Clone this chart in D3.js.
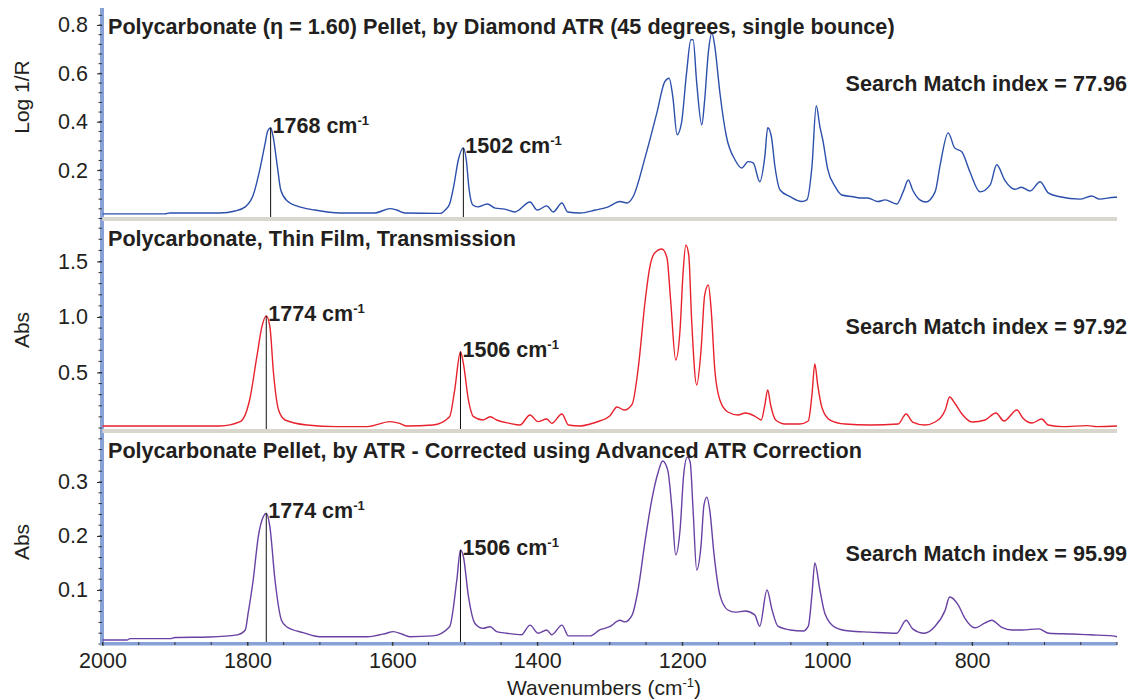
<!DOCTYPE html>
<html>
<head>
<meta charset="utf-8">
<script src="https://cdn.jsdelivr.net/npm/d3@7"></script>
<style>
    body { margin: 0; background: #fff; }
    #chart-area { width: 1130px; height: 700px; }
    text { font-family: "Liberation Sans", Arial, sans-serif; fill: #231f20; }
</style>
</head>
<body>
<div id="chart-area"></div>
<script>

/* * * * * * * * * * * * * *
*    Polycarbonate spectra  *
* * * * * * * * * * * * * */

// x axis
const wnDomain = [2000, 600];
const xTickValues = [2000, 1800, 1600, 1400, 1200, 1000, 800];

// Panel 1: diamond ATR pellet (Log 1/R)
const atrWn = [2000, 1914, 1907, 1838, 1817, 1803, 1792, 1783, 1776, 1772, 1768, 1765, 1759, 1754, 1745, 1732, 1707, 1672,
    1624, 1603, 1594, 1583, 1534, 1527, 1521, 1515, 1509, 1502, 1498, 1494, 1489, 1482, 1469, 1458, 1445, 1431, 1410, 1400,
    1387, 1378, 1366, 1358, 1341, 1320, 1302, 1286, 1276, 1268, 1251, 1235, 1224, 1218, 1213, 1207, 1201, 1194, 1188, 1185,
    1180, 1173, 1169, 1164, 1159, 1155, 1148, 1139, 1127, 1118, 1109, 1102, 1093, 1086, 1082, 1077, 1072, 1065, 1051, 1035,
    1028, 1021, 1015, 1010, 1006, 999, 989, 980, 964, 955, 944, 930, 920, 904, 895, 888, 882, 872, 864, 851, 844, 833, 824,
    814, 803, 789, 775, 766, 755, 741, 732, 720, 706, 695, 679, 651, 635, 624, 603, 600];
const atrVal = [0.019, 0.019, 0.023, 0.023, 0.031, 0.048, 0.097, 0.201, 0.304, 0.362, 0.375, 0.346, 0.222, 0.118, 0.072, 0.052, 0.035, 0.023,
    0.023, 0.041, 0.035, 0.023, 0.021, 0.035, 0.06, 0.139, 0.242, 0.292, 0.242, 0.118, 0.056, 0.048, 0.06, 0.043, 0.039, 0.027, 0.068, 0.035,
    0.052, 0.027, 0.064, 0.027, 0.023, 0.035, 0.048, 0.07, 0.064, 0.089, 0.255, 0.437, 0.566, 0.58, 0.504, 0.346, 0.395, 0.602, 0.739, 0.739,
    0.561, 0.387, 0.491, 0.685, 0.768, 0.711, 0.52, 0.339, 0.242, 0.209, 0.235, 0.23, 0.152, 0.256, 0.375, 0.339, 0.214, 0.118, 0.09, 0.07,
    0.077, 0.214, 0.466, 0.38, 0.325, 0.201, 0.132, 0.097, 0.09, 0.085, 0.085, 0.07, 0.077, 0.06, 0.111, 0.159, 0.118, 0.077, 0.068, 0.11, 0.222, 0.354, 0.292,
    0.275, 0.193, 0.11, 0.139, 0.222, 0.159, 0.121, 0.129, 0.114, 0.152, 0.106, 0.09, 0.08, 0.093, 0.08, 0.088, 0.088];
const atrPeaks = [1768, 1502];

// Panel 2: thin film transmission (Abs)
const filmWn = [2000, 1838, 1810, 1797, 1787, 1780, 1774, 1769, 1764, 1757, 1748, 1718, 1677, 1635, 1603, 1590, 1580, 1544,
    1521, 1514, 1506, 1502, 1495, 1488, 1475, 1465, 1456, 1438, 1424, 1410, 1399, 1387, 1380, 1366, 1357, 1341, 1327, 1314,
    1300, 1290, 1280, 1269, 1261, 1251, 1245, 1238, 1228, 1221, 1216, 1209, 1203, 1199, 1195, 1191, 1187, 1180, 1174, 1169,
    1164, 1160, 1155, 1148, 1137, 1123, 1113, 1100, 1091, 1086, 1082, 1078, 1071, 1058, 1038, 1026, 1021, 1017, 1013, 1007,
    996, 975, 941, 902, 891, 882, 865, 851, 837, 831, 824, 814, 800, 782, 767, 756, 738, 730, 717, 704, 695, 675, 641, 628, 600];
const filmVal = [0.018, 0.018, 0.057, 0.252, 0.642, 0.913, 1.01, 0.913, 0.493, 0.162, 0.072, 0.027, 0.012, 0.012, 0.057, 0.042, 0.018, 0.027,
    0.102, 0.342, 0.687, 0.583, 0.252, 0.102, 0.072, 0.102, 0.072, 0.042, 0.027, 0.117, 0.057, 0.081, 0.042, 0.126, 0.027, 0.018, 0.036, 0.063,
    0.108, 0.189, 0.162, 0.216, 0.523, 1.153, 1.441, 1.577, 1.613, 1.532, 1.153, 0.613, 0.883, 1.378, 1.649, 1.559, 0.973, 0.387, 0.703, 1.198,
    1.288, 1.063, 0.523, 0.252, 0.144, 0.117, 0.135, 0.108, 0.072, 0.207, 0.342, 0.207, 0.072, 0.036, 0.036, 0.063, 0.297, 0.577, 0.387, 0.18,
    0.072, 0.036, 0.027, 0.036, 0.126, 0.054, 0.027, 0.054, 0.162, 0.279, 0.225, 0.126, 0.054, 0.072, 0.135, 0.063, 0.162, 0.09, 0.045, 0.081, 0.027, 0.012, 0.021, 0.012, 0.018];
const filmPeaks = [1774, 1506];

// Panel 3: ATR pellet after advanced ATR correction (Abs)
const corrWn = [2000, 1966, 1962, 1907, 1900, 1852, 1814, 1803, 1799, 1792, 1785, 1778, 1774, 1769, 1762, 1753, 1746, 1723,
    1700, 1635, 1608, 1599, 1587, 1576, 1544, 1521, 1511, 1506, 1502, 1495, 1486, 1475, 1465, 1456, 1442, 1422, 1410, 1399,
    1387, 1380, 1366, 1357, 1341, 1327, 1314, 1300, 1286, 1279, 1269, 1261, 1251, 1242, 1233, 1227, 1220, 1214, 1209, 1203,
    1198, 1193, 1189, 1185, 1180, 1174, 1170, 1166, 1162, 1156, 1148, 1137, 1127, 1113, 1100, 1093, 1083, 1076, 1068, 1051,
    1033, 1026, 1021, 1017, 1010, 1003, 989, 969, 941, 904, 891, 882, 866, 851, 837, 831, 819, 810, 796, 782, 773, 759, 745,
    731, 708, 694, 661, 637, 606, 600];
const corrVal = [0.0074, 0.0074, 0.010, 0.010, 0.012, 0.013, 0.017, 0.026, 0.057, 0.119, 0.199, 0.236, 0.242, 0.217, 0.119, 0.044, 0.032, 0.021,
    0.0135, 0.0135, 0.020, 0.023, 0.0185, 0.0135, 0.015, 0.032, 0.119, 0.174, 0.162, 0.088, 0.038, 0.029, 0.032, 0.023, 0.020, 0.017, 0.035, 0.020,
    0.026, 0.017, 0.035, 0.015, 0.015, 0.015, 0.026, 0.032, 0.044, 0.041, 0.054, 0.1, 0.193, 0.267, 0.319, 0.339, 0.322, 0.248, 0.165, 0.211,
    0.313, 0.346, 0.337, 0.248, 0.137, 0.183, 0.257, 0.272, 0.248, 0.165, 0.091, 0.063, 0.059, 0.061, 0.054, 0.033, 0.1, 0.063, 0.033, 0.026,
    0.024, 0.033, 0.091, 0.15, 0.1, 0.056, 0.031, 0.024, 0.022, 0.020, 0.044, 0.028, 0.020, 0.033, 0.063, 0.087, 0.072, 0.048, 0.030, 0.039, 0.044, 0.031, 0.026,
    0.026, 0.028, 0.020, 0.0185, 0.017, 0.015, 0.0135];
const corrPeaks = [1774, 1506];


// layout of the whole figure
const plotLeft = 102.5, plotRight = 1117;
const axisTop = 8, axisBottom = 642;

const panels = [
    { wn: atrWn, val: atrVal, peaks: atrPeaks, color: "#2b4fab",
      zeroY: 218.5, refY: 25, refValue: 0.8, topY: 8, sepY: 217,
      ticks: [0.2, 0.4, 0.6, 0.8], minorStep: 0.04,
      yLabel: "Log 1/R", yLabelY: 97,
      title: "Polycarbonate (\u03b7 = 1.60) Pellet, by Diamond ATR (45 degrees, single bounce)", titleY: 34,
      match: "Search Match index = 77.96", matchY: 91 },
    { wn: filmWn, val: filmVal, peaks: filmPeaks, color: "#e8222c",
      zeroY: 428, refY: 261.5, refValue: 1.5, topY: 221, sepY: 429,
      ticks: [0.5, 1.0, 1.5], minorStep: 0.1,
      yLabel: "Abs", yLabelY: 330,
      title: "Polycarbonate, Thin Film, Transmission", titleY: 246,
      match: "Search Match index = 97.92", matchY: 334 },
    { wn: corrWn, val: corrVal, peaks: corrPeaks, color: "#6841a3",
      zeroY: 644, refY: 482, refValue: 0.3, topY: 433, sepY: null,
      ticks: [0.1, 0.2, 0.3], minorStep: 0.02,
      yLabel: "Abs", yLabelY: 542,
      title: "Polycarbonate Pellet, by ATR - Corrected using Advanced ATR Correction", titleY: 458,
      match: "Search Match index = 95.99", matchY: 561 }
];


class SpectrumPanel {
    constructor(_svg, _config, _x) {
        this.svg = _svg;
        this.config = _config;
        this.x = _x;

        this.initVis();
    }

    initVis() {
        let vis = this;
        let c = vis.config;

        vis.y = d3.scaleLinear()
            .domain([0, c.refValue])
            .range([c.zeroY, c.refY]);

        vis.data = c.wn.map((w, i) => ({ wn: w, v: c.val[i] }));

        vis.g = vis.svg.append("g");

        // gray bar under the panel
        if (c.sepY !== null) {
            vis.g.append("rect")
                .attr("x", plotLeft)
                .attr("y", c.sepY)
                .attr("width", plotRight - plotLeft)
                .attr("height", 4)
                .attr("fill", "#d9d6ce");
        }

        vis.updateVis();
    }

    updateVis() {
        let vis = this;
        let c = vis.config;

        // spectrum line
        let line = d3.line()
            .x(d => vis.x(d.wn))
            .y(d => vis.y(d.v))
            .curve(d3.curveMonotoneX);

        vis.g.append("path")
            .datum(vis.data)
            .attr("fill", "none")
            .attr("stroke", c.color)
            .attr("stroke-width", 1.4)
            .attr("stroke-linejoin", "round")
            .attr("d", line);

        // peak markers
        let bottomY = c.sepY !== null ? c.sepY : axisBottom;
        let peakData = c.peaks.map(p => vis.data.find(d => d.wn === p));

        vis.g.selectAll(".peak-line")
            .data(peakData)
            .enter()
            .append("line")
            .attr("class", "peak-line")
            .attr("x1", d => vis.x(d.wn))
            .attr("x2", d => vis.x(d.wn))
            .attr("y1", d => vis.y(d.v))
            .attr("y2", bottomY)
            .attr("stroke", "#111")
            .attr("stroke-width", 1);

        let peakLabels = vis.g.selectAll(".peak-label")
            .data(peakData)
            .enter()
            .append("text")
            .attr("class", "peak-label")
            .attr("x", d => vis.x(d.wn) + 2)
            .attr("y", d => vis.y(d.v) + 5)
            .style("font-size", "21.5px")
            .style("font-weight", "bold");
        peakLabels.append("tspan").text(d => d.wn + " cm");
        peakLabels.append("tspan")
            .attr("dy", -8)
            .style("font-size", "13px")
            .text("-1");

        // minor y ticks
        let yTop = vis.y.invert(c.topY);
        let minorTicks = d3.range(0, yTop, c.minorStep);
        vis.g.selectAll(".y-minor")
            .data(minorTicks)
            .enter()
            .append("line")
            .attr("class", "y-minor")
            .attr("x1", 98.5)
            .attr("x2", 102)
            .attr("y1", d => vis.y(d))
            .attr("y2", d => vis.y(d))
            .attr("stroke", "#333");

        // major y ticks
        let yAxis = d3.axisLeft(vis.y)
            .tickValues(c.ticks)
            .tickSize(5)
            .tickPadding(9)
            .tickFormat(d3.format(".1f"));

        let yAxisG = vis.g.append("g")
            .attr("transform", "translate(102,0)")
            .call(yAxis);
        yAxisG.select(".domain").remove();
        yAxisG.selectAll("line").attr("stroke", "#333");
        yAxisG.selectAll("text")
            .style("font-size", "21.5px")
            .style("font-family", "'Liberation Sans', Arial, sans-serif")
            .attr("fill", "#231f20");

        // y label
        vis.g.append("text")
            .attr("transform", "translate(29," + c.yLabelY + ") rotate(-90)")
            .attr("text-anchor", "middle")
            .style("font-size", "21px")
            .text(c.yLabel);

        // title and search match
        vis.g.append("text")
            .attr("x", 108)
            .attr("y", c.titleY)
            .style("font-size", "21.6px")
            .style("font-weight", "bold")
            .text(c.title);

        vis.g.append("text")
            .attr("x", 1127)
            .attr("y", c.matchY)
            .attr("text-anchor", "end")
            .style("font-size", "21.6px")
            .style("font-weight", "bold")
            .text(c.match);
    }
}


let svg = d3.select("#chart-area").append("svg")
    .attr("width", 1130)
    .attr("height", 700);

let x = d3.scaleLinear()
    .domain(wnDomain)
    .range([plotLeft, plotRight]);

// left axis band
svg.append("rect")
    .attr("x", 100)
    .attr("y", axisTop)
    .attr("width", 4)
    .attr("height", axisBottom + 3 - axisTop)
    .attr("fill", "#88a2d8");

panels.forEach(p => new SpectrumPanel(svg, p, x));

// bottom axis band
svg.append("rect")
    .attr("x", 100)
    .attr("y", axisBottom)
    .attr("width", plotRight - 100)
    .attr("height", 3.5)
    .attr("fill", "#88a2d8");

// minor x ticks
svg.selectAll(".x-minor")
    .data(d3.range(2000, 599, -50))
    .enter()
    .append("line")
    .attr("class", "x-minor")
    .attr("x1", d => x(d))
    .attr("x2", d => x(d))
    .attr("y1", axisBottom)
    .attr("y2", axisBottom + 3)
    .attr("stroke", "#333");

let xAxis = d3.axisBottom(x)
    .tickValues(xTickValues)
    .tickSize(4)
    .tickPadding(7)
    .tickFormat(d3.format("d"));

let xAxisG = svg.append("g")
    .attr("transform", "translate(0," + axisBottom + ")")
    .call(xAxis);
xAxisG.select(".domain").remove();
xAxisG.selectAll("line").attr("stroke", "#333");
xAxisG.selectAll("text")
    .style("font-size", "21.5px")
    .style("font-family", "'Liberation Sans', Arial, sans-serif")
    .attr("fill", "#231f20");

// x label
let xLabel = svg.append("text")
    .attr("x", 604)
    .attr("y", 695)
    .attr("text-anchor", "middle")
    .style("font-size", "21px");
xLabel.append("tspan").text("Wavenumbers (cm");
xLabel.append("tspan").attr("dy", -8).style("font-size", "13px").text("-1");
xLabel.append("tspan").attr("dy", 8).text(")");

</script>
</body>
</html>
